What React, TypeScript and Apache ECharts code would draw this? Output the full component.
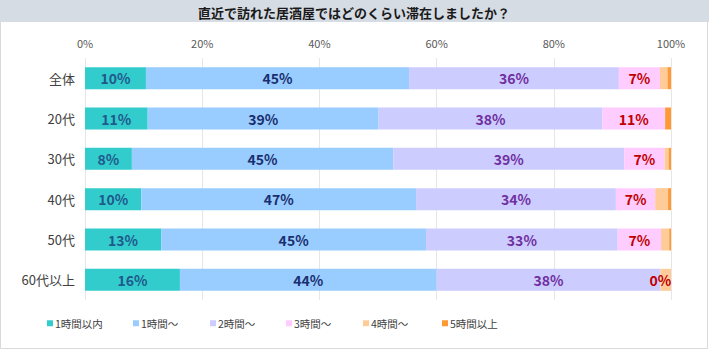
import React, { useEffect, useRef } from "react";
import * as echarts from "echarts";

const TITLE = "直近で訪れた居酒屋ではどのくらい滞在しましたか？";
const CATEGORIES = ["全体", "20代", "30代", "40代", "50代", "60代以上"];
const SERIES_NAMES = ["1時間以内", "1時間～", "2時間～", "3時間～", "4時間～", "5時間以上"];
const WITHIN_1H = [10.4, 10.7, 8.0, 9.6, 13.0, 16.2];
const FROM_1H = [44.9, 39.4, 44.6, 46.9, 45.2, 43.8];
const FROM_2H = [35.8, 38.2, 39.4, 34.1, 32.7, 38.2];
const FROM_3H = [7.0, 10.7, 6.9, 6.7, 7.4, 0];
const FROM_4H = [1.3, 0, 0.7, 2.2, 1.4, 1.8];
const OVER_5H = [0.6, 1.0, 0.4, 0.5, 0.3, 0];
const X_TICKS = [0, 20, 40, 60, 80, 100];

const COLORS = ["#33cccc", "#99ccff", "#ccccff", "#ffccff", "#ffcc99", "#ff9933"];
const LABEL_COLORS = ["#1f5a8c", "#1a2f6e", "#7030a0", "#c00000", null, null];
const LEGEND_LEFTS = [42, 128, 205, 281, 358, 437];
const FONT = "'Noto Sans CJK JP', 'Noto Sans', sans-serif";

export default function App() {
  const ref = useRef<HTMLDivElement>(null);
  useEffect(() => {
    document.body.style.margin = "0";
    if (!ref.current) return;
    const chart = echarts.init(ref.current, null, { renderer: "svg" });
    const values = [WITHIN_1H, FROM_1H, FROM_2H, FROM_3H, FROM_4H, OVER_5H];
    chart.setOption({
      animation: false,
      backgroundColor: "#ffffff",
      textStyle: { fontFamily: FONT },
      graphic: [
        {
          type: "rect",
          shape: { x: 0.5, y: 0.5, width: 707, height: 348 },
          style: { fill: "#ffffff", stroke: "#d9d9d9", lineWidth: 1 },
          z: -10,
          silent: true,
        },
        {
          type: "rect",
          shape: { x: 0, y: 0, width: 709, height: 22 },
          style: { fill: "#d6dce4" },
          z: -5,
          silent: true,
        },
        {
          type: "text",
          x: 354,
          y: 12,
          style: {
            text: TITLE,
            fill: "#1a1a1a",
            font: `bold 13px ${FONT}`,
            textAlign: "center",
            textVerticalAlign: "middle",
          },
        },
      ],
      grid: { left: 85, right: 38, top: 58, bottom: 57, containLabel: false },
      legend: SERIES_NAMES.map((name, i) => ({
        top: 313,
        left: LEGEND_LEFTS[i],
        itemWidth: 6,
        itemHeight: 6,
        itemGap: 0,
        icon: "rect",
        textStyle: { fontSize: 10.5, color: "#404040", fontFamily: FONT, padding: [0, 0, 0, -3] },
        data: [name],
      })),
      xAxis: {
        type: "value",
        position: "top",
        min: 0,
        max: 100,
        interval: 20,
        axisLine: { show: false },
        axisTick: { show: false },
        splitLine: { show: true, lineStyle: { color: "#e6e6e6", width: 1 } },
        axisLabel: {
          formatter: (v: number) => (X_TICKS.includes(v) ? `${v}%` : ""),
          color: "#595959",
          fontSize: 11,
          margin: 10,
        },
      },
      yAxis: {
        type: "category",
        inverse: true,
        data: CATEGORIES,
        axisLine: { show: false },
        axisTick: { show: false },
        axisLabel: { color: "#404040", fontSize: 13, margin: 10 },
      },
      series: SERIES_NAMES.map((name, i) => ({
        name,
        type: "bar",
        stack: "total",
        barWidth: 22,
        itemStyle: { color: COLORS[i] },
        data: values[i],
        label: LABEL_COLORS[i]
          ? {
              show: true,
              position: "inside",
              formatter: (p: any) => `${Math.round(p.value)}%`,
              color: LABEL_COLORS[i],
              fontSize: 14,
              fontWeight: "bold",
              fontFamily: FONT,
            }
          : { show: false },
      })),
    });
    return () => chart.dispose();
  }, []);
  return (
    <div
      ref={ref}
      style={{ position: "absolute", left: 0, top: 0, width: 709, height: 357 }}
    />
  );
}
